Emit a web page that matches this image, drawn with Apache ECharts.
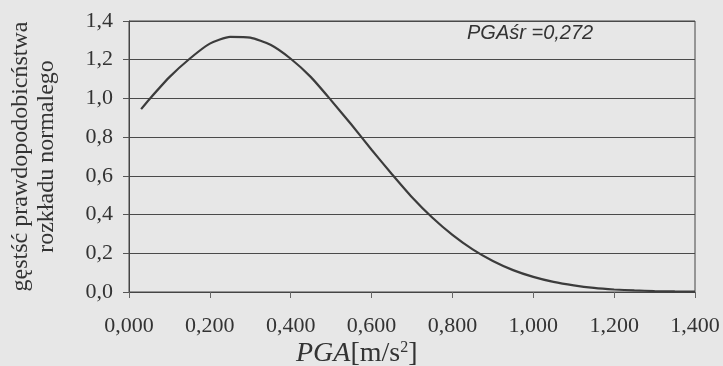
<!DOCTYPE html>
<html>
<head>
<meta charset="utf-8">
<script src="https://cdn.jsdelivr.net/npm/echarts@6/dist/echarts.min.js"></script>
<style>
  html, body { margin: 0; padding: 0; background: #e7e7e7; }
  #chart { width: 723px; height: 366px; }
</style>
</head>
<body>
<div id="chart"></div>
<script>
// values
const pgaValues = [0.03, 0.05, 0.10, 0.15, 0.20, 0.25, 0.30, 0.35, 0.40, 0.45, 0.50, 0.55, 0.60, 0.65,
  0.70, 0.75, 0.80, 0.85, 0.90, 0.95, 1.00, 1.05, 1.10, 1.15, 1.20, 1.25, 1.30, 1.35, 1.40];
const densityValues = [0.945, 0.995, 1.11, 1.205, 1.283, 1.318, 1.314, 1.277, 1.205, 1.11, 0.99, 0.865, 0.735, 0.61,
  0.49, 0.385, 0.295, 0.22, 0.16, 0.113, 0.078, 0.052, 0.034, 0.021, 0.013, 0.008, 0.005, 0.003, 0.002];
const meanLabel = 'PGAśr =0,272';
const yTitle = 'gęstść prawdopodobicństwa\nrozkładu normalego';

const chart = echarts.init(document.getElementById('chart'));

const serif = '"Liberation Serif", "DejaVu Serif", serif';

chart.setOption({
  backgroundColor: '#e7e7e7',
  animation: false,
  grid: {
    left: 129,
    right: 28,
    top: 21,
    bottom: 74,
    outerBoundsMode: 'none',
    containLabel: false,
    show: true,
    borderColor: '#444',
    borderWidth: 1,
    backgroundColor: 'transparent',
  },
  xAxis: {
    type: 'value',
    min: 0,
    max: 1.4,
    interval: 0.2,
    axisLine: { show: true, lineStyle: { color: '#444', width: 1 } },
    axisTick: { show: true, length: 6, lineStyle: { color: '#666' } },
    splitLine: { show: false },
    axisLabel: {
      color: '#333',
      fontFamily: serif,
      fontSize: 22,
      margin: 23,
      formatter: (v) => v.toFixed(3).replace('.', ','),
    },
  },
  yAxis: {
    type: 'value',
    min: 0,
    max: 1.4,
    interval: 0.2,
    name: yTitle,
    nameLocation: 'middle',
    nameGap: 69,
    nameRotate: 90,
    nameTextStyle: {
      color: '#333',
      fontFamily: serif,
      fontSize: 24,
      lineHeight: 26,
    },
    axisLine: { show: true, lineStyle: { color: '#444', width: 1 } },
    axisTick: { show: true, length: 6, lineStyle: { color: '#555' } },
    splitLine: { show: true, lineStyle: { color: '#4a4a4a', width: 1.2 } },
    axisLabel: {
      color: '#333',
      fontFamily: serif,
      fontSize: 22,
      margin: 16,
      formatter: (v) => v.toFixed(1).replace('.', ','),
    },
  },
  graphic: [
    {
      type: 'text',
      left: 467,
      top: 23,
      style: {
        text: meanLabel,
        fill: '#333',
        font: 'italic 20px "Liberation Sans", Arial, sans-serif',
      },
    },
    {
      type: 'text',
      left: 296,
      top: 340,
      style: {
        text: '{i|PGA}{n|[m/s}{s|2}{n|]}',
        rich: {
          i: { fontFamily: serif, fontStyle: 'italic', fontSize: 28, fill: '#333' },
          n: { fontFamily: serif, fontSize: 28, fill: '#333' },
          s: { fontFamily: serif, fontSize: 16, fill: '#333', verticalAlign: 'top', padding: [0, 0, 12, 0] },
        },
      },
    },
  ],
  series: [
    {
      type: 'line',
      data: pgaValues.map((x, i) => [x, densityValues[i]]),
      smooth: 0.2,
      symbol: 'none',
      lineStyle: { color: '#3c3c3c', width: 2.2 },
    },
  ],
});
</script>
</body>
</html>
